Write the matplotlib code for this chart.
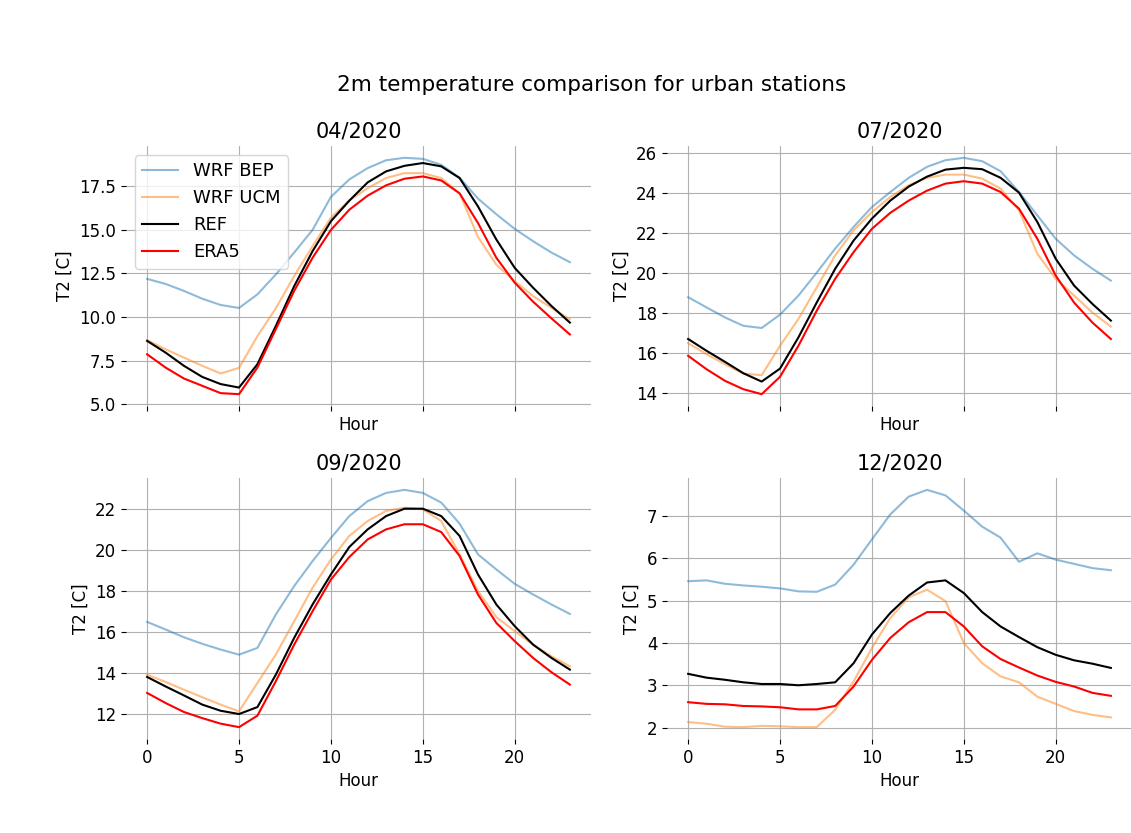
import matplotlib
matplotlib.use("Agg")
import matplotlib.pyplot as plt
import numpy as np

hours = list(range(24))
months = ["04/2020", "07/2020", "09/2020", "12/2020"]
series_names = ["WRF BEP", "WRF UCM", "REF", "ERA5"]

# 04/2020
apr_bep = [12.19, 11.9, 11.5, 11.05, 10.69, 10.52, 11.3, 12.44, 13.7, 15.0, 16.9, 17.9,
           18.55, 19.0, 19.14, 19.08, 18.74, 18.0, 16.8, 15.9, 15.06, 14.35, 13.7, 13.15]
apr_ucm = [8.68, 8.15, 7.67, 7.2, 6.76, 7.08, 8.9, 10.5, 12.35, 14.07, 15.7, 16.7,
           17.4, 17.98, 18.26, 18.26, 17.98, 17.1, 14.6, 13.0, 12.06, 11.2, 10.53, 9.87]
apr_ref = [8.63, 7.96, 7.2, 6.56, 6.15, 5.95, 7.29, 9.48, 11.77, 13.78, 15.5, 16.68,
           17.73, 18.36, 18.68, 18.84, 18.65, 17.98, 16.35, 14.45, 12.82, 11.68, 10.63, 9.68]
apr_era = [7.86, 7.1, 6.47, 6.05, 5.63, 5.57, 7.1, 9.3, 11.5, 13.4, 15.0, 16.16,
           16.97, 17.56, 17.94, 18.07, 17.84, 17.1, 15.4, 13.4, 11.97, 10.88, 9.92, 9.0]

# 07/2020
jul_bep = [18.77, 18.26, 17.76, 17.34, 17.23, 17.9, 18.85, 20.0, 21.2, 22.28, 23.28, 24.03,
           24.74, 25.29, 25.62, 25.74, 25.57, 25.07, 24.03, 22.86, 21.69, 20.86, 20.19, 19.6]
jul_ucm = [16.47, 15.92, 15.42, 14.95, 14.87, 16.34, 17.68, 19.27, 20.86, 22.11, 23.03, 23.78,
           24.37, 24.74, 24.9, 24.9, 24.7, 24.2, 23.11, 20.94, 19.69, 18.85, 18.0, 17.3]
jul_ref = [16.68, 16.09, 15.54, 14.97, 14.55, 15.2, 16.76, 18.51, 20.19, 21.6, 22.7, 23.6,
           24.3, 24.8, 25.15, 25.24, 25.17, 24.74, 24.0, 22.53, 20.69, 19.35, 18.43, 17.6]
jul_era = [15.84, 15.17, 14.59, 14.17, 13.92, 14.79, 16.34, 18.1, 19.69, 21.02, 22.19, 22.99,
           23.6, 24.1, 24.45, 24.57, 24.45, 24.03, 23.2, 21.69, 19.85, 18.5, 17.5, 16.68]

# 09/2020
sep_bep = [16.5, 16.13, 15.75, 15.43, 15.15, 14.9, 15.23, 16.86, 18.25, 19.47, 20.6, 21.67,
           22.4, 22.8, 22.95, 22.8, 22.33, 21.3, 19.8, 19.06, 18.36, 17.84, 17.35, 16.89]
sep_ucm = [13.92, 13.57, 13.19, 12.82, 12.46, 12.13, 13.52, 14.9, 16.53, 18.17, 19.55, 20.7,
           21.43, 21.92, 22.08, 22.0, 21.43, 19.8, 18.0, 16.73, 16.05, 15.39, 14.82, 14.33]
sep_ref = [13.81, 13.35, 12.91, 12.46, 12.16, 12.0, 12.34, 13.92, 15.72, 17.35, 18.82, 20.16,
           21.02, 21.67, 22.03, 22.03, 21.67, 20.7, 18.82, 17.35, 16.29, 15.39, 14.74, 14.17]
sep_era = [13.03, 12.54, 12.1, 11.8, 11.53, 11.36, 11.92, 13.6, 15.39, 17.02, 18.57, 19.67,
           20.53, 21.02, 21.27, 21.27, 20.89, 19.72, 17.84, 16.45, 15.56, 14.74, 14.04, 13.44]

# 12/2020
dec_bep = [5.46, 5.48, 5.4, 5.36, 5.33, 5.29, 5.22, 5.21, 5.38, 5.85, 6.45, 7.04,
           7.46, 7.62, 7.49, 7.13, 6.75, 6.49, 5.92, 6.12, 5.97, 5.87, 5.77, 5.72]
dec_ucm = [2.13, 2.09, 2.02, 2.01, 2.04, 2.03, 2.01, 2.01, 2.42, 3.09, 3.88, 4.59,
           5.08, 5.26, 4.99, 4.0, 3.52, 3.21, 3.07, 2.73, 2.56, 2.39, 2.3, 2.24]
dec_ref = [3.27, 3.18, 3.13, 3.07, 3.03, 3.03, 3.0, 3.03, 3.07, 3.52, 4.2, 4.71,
           5.12, 5.43, 5.48, 5.18, 4.73, 4.39, 4.14, 3.9, 3.72, 3.59, 3.51, 3.41]
dec_era = [2.6, 2.56, 2.55, 2.51, 2.5, 2.48, 2.43, 2.43, 2.51, 2.97, 3.6, 4.12,
           4.49, 4.73, 4.73, 4.39, 3.92, 3.62, 3.42, 3.23, 3.08, 2.97, 2.82, 2.75]

panels = [
    (apr_bep, apr_ucm, apr_ref, apr_era),
    (jul_bep, jul_ucm, jul_ref, jul_era),
    (sep_bep, sep_ucm, sep_ref, sep_era),
    (dec_bep, dec_ucm, dec_ref, dec_era),
]

styles = [
    dict(color="C0", alpha=0.5),
    dict(color="C1", alpha=0.5),
    dict(color="black"),
    dict(color="red"),
]

plt.rcParams["font.size"] = 12

fig = plt.figure(figsize=(11.31, 8.33), dpi=100)

W, H = 1131, 833
# axes boxes in pixels: left, top, width, height
rects = [
    (126, 146, 465, 260),
    (667, 146, 465, 260),
    (126, 478, 465, 261),
    (667, 478, 465, 261),
]

axes = []
for x0, y0, w, h in rects:
    ax = fig.add_axes([x0 / W, 1 - (y0 + h) / H, w / W, h / H],
                      sharex=axes[0] if axes else None)
    axes.append(ax)

for i, ax in enumerate(axes):
    for data, name, st in zip(panels[i], series_names, styles):
        ax.plot(hours, data, label=name, lw=1.5, **st)
    ax.set_title(months[i], fontsize=15)
    ax.set_xlabel("Hour")
    ax.set_ylabel("T2 [C]")
    ax.grid(True)
    for s in ax.spines.values():
        s.set_visible(False)
    ax.set_xticks([0, 5, 10, 15, 20])
    if i < 2:
        ax.tick_params(labelbottom=False)

axes[0].legend(loc="upper left", fontsize=13)

fig.suptitle("2m temperature comparison for urban stations", x=0.523, y=0.898,
             va="center", fontsize=15.5)

fig.savefig("out.png", dpi=100)
